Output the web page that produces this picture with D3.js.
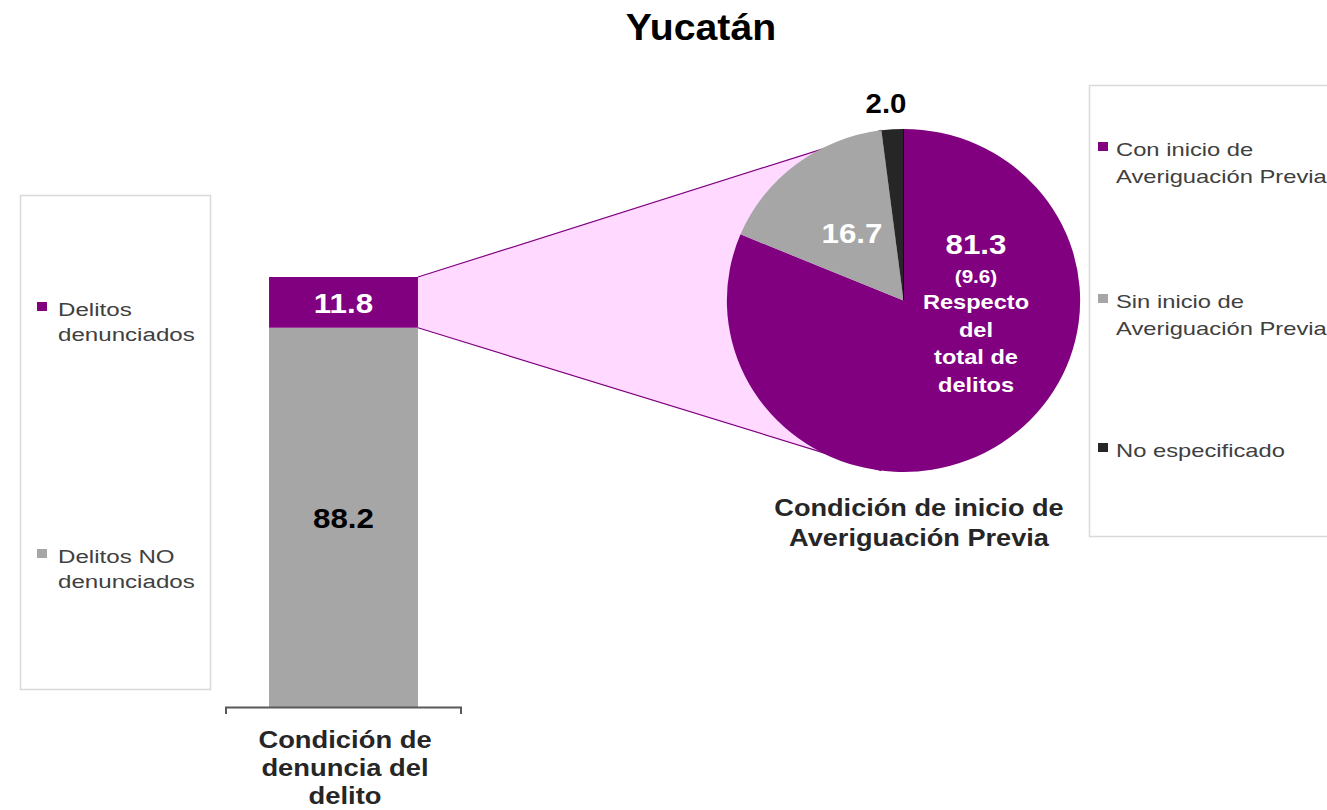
<!DOCTYPE html>
<html><head><meta charset="utf-8">
<script src="https://cdn.jsdelivr.net/npm/d3@7"></script>
<style>body{margin:0;background:#fff}svg{display:block;font-family:"Liberation Sans",Arial,sans-serif}</style>
</head><body><svg id="c" width="1327" height="810"></svg>
<script>
const title = "Yucatán";
const barCategories = ["Delitos denunciados", "Delitos NO denunciados"];
const barValues = [11.8, 88.2];
const barColors = ["#800080", "#A6A6A6"];
const barAxisLabel = ["Condición de", "denuncia del", "delito"];
const pieCategories = ["Con inicio de Averiguación Previa", "Sin inicio de Averiguación Previa", "No especificado"];
const pieValues = [81.3, 16.7, 2.0];
const pieColors = ["#800080", "#A6A6A6", "#262626"];
const pieSubLabel = "(9.6)";
const pieNote = ["Respecto", "del", "total de", "delitos"];
const pieAxisLabel = ["Condición de inicio de", "Averiguación Previa"];
const legendLeft = [["Delitos", "denunciados"], ["Delitos NO", "denunciados"]];
const legendRight = [["Con inicio de", "Averiguación Previa"], ["Sin inicio de", "Averiguación Previa"], ["No especificado"]];

const svg = d3.select("#c");

function txt(x, y, s, size, opts = {}) {
  const t = svg.append("text")
    .attr("transform", `translate(${x},${y}) scale(${opts.sx || 1},1)`)
    .attr("x", 0).attr("y", 0)
    .attr("text-anchor", opts.anchor || "middle")
    .attr("font-size", size)
    .attr("font-weight", opts.bold ? "bold" : "normal")
    .attr("fill", opts.fill || "#000")
    .text(s);
  return t;
}

// title
txt(701, 40, title, 37, {bold: true, sx: 1.06});

// bar scales
const x = d3.scaleBand().domain(["bar"]).range([226, 461]).paddingInner(0).paddingOuter(0.289);
const y = d3.scaleLinear().domain([0, 100]).range([707, 277]);

const stacks = [];
let acc = 0;
[[1, barValues[1]], [0, barValues[0]]].forEach(([i, v]) => { stacks.push({i, y0: acc, y1: acc + v}); acc += v; });

// pie geometry
const cx = 903.5, cy = 300.5, r = 171.5, sxP = 1.03;
const pie = d3.pie().sort(null).value(d => d)(pieValues);
const arc = d3.arc().innerRadius(0).outerRadius(r);

// connector polygon (behind pie)
const topStack = stacks.find(s => s.i === 0);
const bx = x("bar") + x.bandwidth();
const angTop = pie[2].startAngle, angBot = Math.PI * 1.04;
const pt = a => [cx + sxP * r * Math.sin(a), cy - r * Math.cos(a)];
const pTop = pt(angTop), pBot = pt(angBot);
svg.append("path")
  .attr("d", `M${bx},${y(topStack.y1)} L${pTop[0]},${pTop[1]} L${cx},${cy} L${pBot[0]},${pBot[1]} L${bx},${y(topStack.y0)} Z`)
  .attr("fill", "#FFD9FF");
svg.append("line").attr("x1", bx).attr("y1", y(topStack.y1)).attr("x2", pTop[0]).attr("y2", pTop[1])
  .attr("stroke", "#800080").attr("stroke-width", 1.2);
svg.append("line").attr("x1", bx).attr("y1", y(topStack.y0)).attr("x2", pBot[0]).attr("y2", pBot[1])
  .attr("stroke", "#800080").attr("stroke-width", 1.2);

// bars
svg.selectAll("rect.bar").data(stacks).enter().append("rect")
  .attr("x", x("bar")).attr("width", x.bandwidth())
  .attr("y", d => y(d.y1)).attr("height", d => y(d.y0) - y(d.y1))
  .attr("fill", d => barColors[d.i]);

// bar labels
stacks.forEach(d => txt(x("bar") + x.bandwidth() / 2, (y(d.y0) + y(d.y1)) / 2 + 11,
  barValues[d.i].toFixed(1), 28, {bold: true, sx: 1.12, fill: d.i === 0 ? "#fff" : "#000"}));

// bar axis
svg.append("path").attr("d", `M226,714 L226,707.5 L461,707.5 L461,714`)
  .attr("fill", "none").attr("stroke", "#595959").attr("stroke-width", 2);
barAxisLabel.forEach((t, k) => txt(345, 748 + k * 28, t, 23, {bold: true, sx: 1.19, fill: "#262626"}));

// pie
const g = svg.append("g").attr("transform", `translate(${cx},${cy}) scale(${sxP},1)`);
g.selectAll("path").data(pie).enter().append("path").attr("d", arc)
  .attr("fill", (d, i) => pieColors[i]);
g.append("line").attr("x1", 0).attr("y1", 0).attr("x2", 0).attr("y2", -r).attr("stroke", "#111").attr("stroke-width", 1);

// pie labels
txt(976, 254, pieValues[0].toFixed(1), 28, {bold: true, sx: 1.12, fill: "#fff"});
txt(976, 283, pieSubLabel, 18, {bold: true, sx: 1.15, fill: "#fff"});
pieNote.forEach((t, k) => txt(976, 309 + k * 27.5, t, 20, {bold: true, sx: 1.18, fill: "#fff"}));
txt(852, 243, pieValues[1].toFixed(1), 28, {bold: true, sx: 1.12, fill: "#fff"});
txt(886, 113, pieValues[2].toFixed(1), 28, {bold: true, sx: 1.05, fill: "#000"});

pieAxisLabel.forEach((t, k) => txt(919, 516 + k * 30, t, 23, {bold: true, sx: 1.18, fill: "#262626"}));

// legends
svg.append("rect").attr("x", 20.5).attr("y", 195.5).attr("width", 190).attr("height", 494)
  .attr("fill", "#fff").attr("stroke", "#D9D9D9").attr("stroke-width", 1.5);
const lyL = [308, 555];
legendLeft.forEach((lines, i) => {
  svg.append("rect").attr("x", 37).attr("y", lyL[i] - 6).attr("width", 10).attr("height", 9).attr("fill", barColors[i]);
  lines.forEach((t, k) => txt(58, lyL[i] + 8 + k * 24.5, t, 19, {anchor: "start", sx: 1.27, fill: "#404040"}));
});

svg.append("rect").attr("x", 1089.5).attr("y", 85.5).attr("width", 260).attr("height", 451)
  .attr("fill", "none").attr("stroke", "#D9D9D9").attr("stroke-width", 1.5);
const lyR = [148, 300, 449];
legendRight.forEach((lines, i) => {
  svg.append("rect").attr("x", 1098).attr("y", lyR[i] - 6).attr("width", 10).attr("height", 9).attr("fill", pieColors[i]);
  lines.forEach((t, k) => txt(1116, lyR[i] + 8 + k * 27, t, 19, {anchor: "start", sx: 1.25, fill: "#404040"}));
});
</script></body></html>
